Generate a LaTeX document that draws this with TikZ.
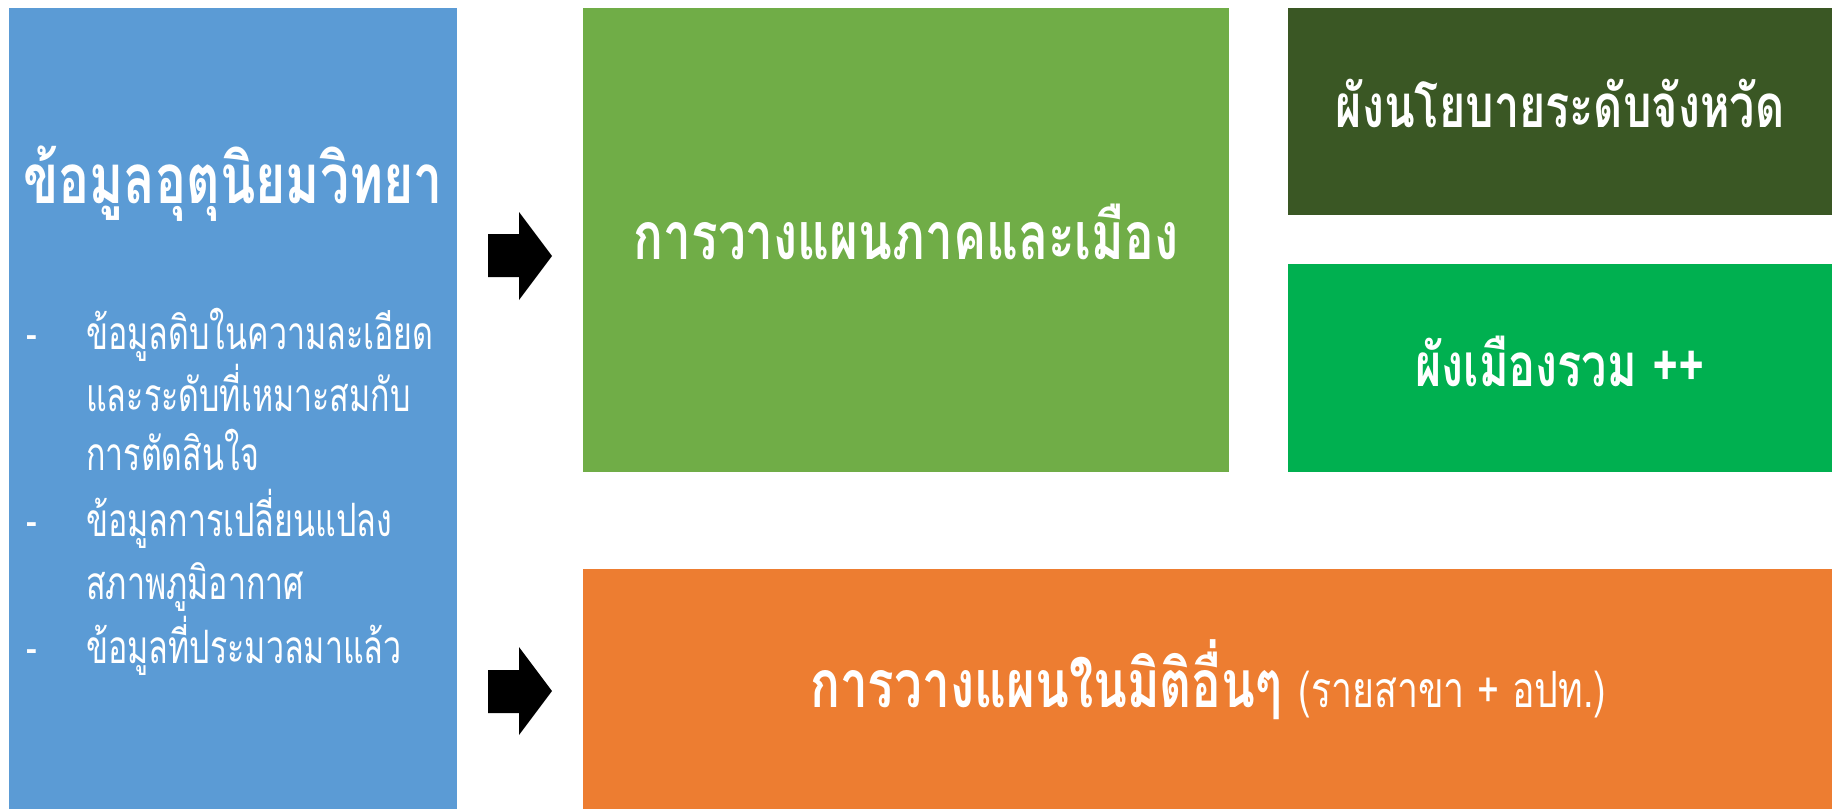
\documentclass[tikz,border=0pt]{standalone}
\usepackage{fontspec}
\newfontfamily\thaih[Script=Thai, FakeStretch=0.75]{Loma}
\newfontfamily\thaib[Script=Thai, FakeStretch=0.70]{Loma}
\definecolor{cblue}{HTML}{5B9BD5}
\definecolor{cgreen}{HTML}{70AD47}
\definecolor{cdkgreen}{HTML}{3A5724}
\definecolor{cbrgreen}{HTML}{00B050}
\definecolor{corange}{HTML}{ED7D31}
\tikzset{
  box/.style={draw=none, inner sep=0pt, outer sep=0pt, anchor=north west},
  head/.style={text=white, inner sep=0pt, anchor=base, font=\thaih\bfseries\fontsize{66}{78}\selectfont},
  sub/.style={text=white, inner sep=0pt, anchor=base, font=\thaih\bfseries\fontsize{60}{72}\selectfont},
  bodytext/.style={text=white, inner sep=0pt, anchor=base west, font=\thaib\fontsize{46}{54}\selectfont},
  blockarrow/.style={fill=black}
}
\begin{document}
\begin{tikzpicture}[x=1pt,y=-1pt]
\useasboundingbox (0,0) rectangle (1841,809);
\fill[white] (0,0) rectangle (1841,809);
% boxes
\node[box, fill=cblue, minimum width=448pt, minimum height=801pt] (data) at (9,8) {};
\node[box, fill=cgreen, minimum width=646pt, minimum height=464pt] (plan) at (583,8) {};
\node[box, fill=cdkgreen, minimum width=544pt, minimum height=207pt] (prov) at (1288,8) {};
\node[box, fill=cbrgreen, minimum width=544pt, minimum height=208pt] (city) at (1288,264) {};
\node[box, fill=corange, minimum width=1249pt, minimum height=240pt] (other) at (583,569) {};
% arrows
\fill[blockarrow] (488,234) -- (519,234) -- (519,212) -- (552,256) -- (519,300) -- (519,277) -- (488,277) -- cycle;
\fill[blockarrow] (488,670) -- (519,670) -- (519,647) -- (552,691) -- (519,735) -- (519,713) -- (488,713) -- cycle;
% texts
\node[head, font=\thaih\bfseries\fontsize{69}{80}\selectfont] (datat) at (233,203) {ข้อมูลอุตุนิยมวิทยา};
\node[bodytext] (d1) at (26,349) {-};
\node[bodytext] (l1) at (86,349) {ข้อมูลดิบในความละเอียด};
\node[bodytext] (l2) at (86,411) {และระดับที่เหมาะสมกับ};
\node[bodytext] (l3) at (86,470) {การตัดสินใจ};
\node[bodytext] (d2) at (26,536) {-};
\node[bodytext] (l4) at (86,536) {ข้อมูลการเปลี่ยนแปลง};
\node[bodytext] (l5) at (86,599) {สภาพภูมิอากาศ};
\node[bodytext] (d3) at (26,663) {-};
\node[bodytext] (l6) at (86,663) {ข้อมูลที่ประมวลมาแล้ว};
\node[head] (plant) at (906,259) {การวางแผนภาคและเมือง};
\node[sub] (provt) at (1560,127) {ผังนโยบายระดับจังหวัด};
\node[sub] (cityt) at (1560,386) {ผังเมืองรวม ++};
\node[head] (othert) at (1208,707) {การวางแผนในมิติอื่นๆ {\mdseries\fontsize{50}{58}\selectfont(รายสาขา + อปท.)}};
\end{tikzpicture}
\end{document}
